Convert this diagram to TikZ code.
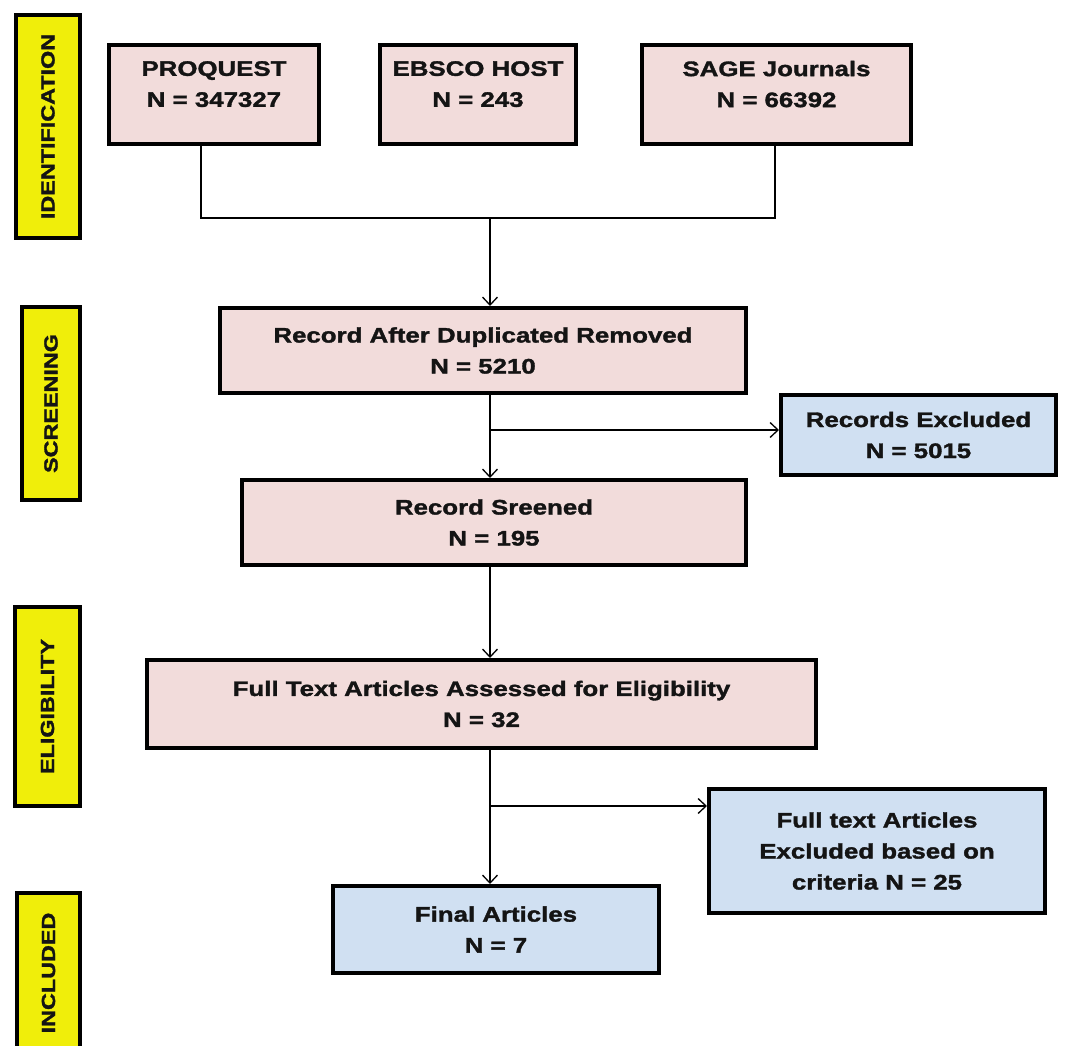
\documentclass[tikz,border=0pt]{standalone}
\usepackage{fontspec}
\newfontfamily\boxfont{Liberation Sans}[FakeStretch=1.23,BoldFeatures={FakeBold=1.6}]
\usetikzlibrary{arrows.meta}
\definecolor{pinkfill}{RGB}{242,220,219}
\definecolor{bluefill}{RGB}{208,224,242}
\definecolor{yellowfill}{RGB}{240,238,10}
\definecolor{inkc}{RGB}{20,20,20}
\tikzset{
  basebox/.style={draw=black, line width=4pt, align=center, text=inkc, inner sep=0pt,
    font=\boxfont\bfseries\fontsize{21}{31}\selectfont},
  pinkbox/.style={basebox, fill=pinkfill},
  bluebox/.style={basebox, fill=bluefill},
  stagebox/.style={draw=black, line width=4pt, fill=yellowfill, rotate=90, text=inkc, inner sep=0pt,
    font=\boxfont\bfseries\fontsize{19}{23}\selectfont},
  conn/.style={draw=black, line width=1.5pt},
  arr/.style={conn, -{Straight Barb[length=8pt,width=15pt,line width=1.3pt]}}
}
\begin{document}
\begin{tikzpicture}[x=1pt,y=-1pt]
\useasboundingbox (0,0) rectangle (1077,1046);
\fill[white] (0,0) rectangle (1077,1046);

% stage bars
\node[stagebox, minimum width=223pt, minimum height=64pt] (sid) at (48,126.5) {IDENTIFICATION};
\node[stagebox, minimum width=193pt, minimum height=58pt] (ssc) at (51,403.5) {SCREENING};
\node[stagebox, minimum width=199pt, minimum height=65pt] (sel) at (47.5,706.5) {ELIGIBILITY};
\node[stagebox, minimum width=160pt, minimum height=63pt] (sin) at (48.5,973) {INCLUDED};

% source boxes
\node[pinkbox, minimum width=210pt, minimum height=99pt] (pq) at (214,94.5) {PROQUEST\\N = 347327\\[-10pt]\mbox{}};
\node[pinkbox, minimum width=196pt, minimum height=99pt] (eb) at (478,94.5) {EBSCO HOST\\N = 243\\[-10pt]\mbox{}};
\node[pinkbox, minimum width=269pt, minimum height=99pt] (sg) at (776.5,94.5) {SAGE Journals\\N = 66392\\[-10pt]\mbox{}};

% flow boxes
\node[pinkbox, minimum width=526pt, minimum height=85pt] (rd) at (483,350.5) {Record After Duplicated Removed\\N = 5210};
\node[bluebox, minimum width=275pt, minimum height=80pt] (re) at (918.5,435) {Records Excluded\\N = 5015};
\node[pinkbox, minimum width=504pt, minimum height=85pt] (rs) at (494,522.5) {Record Sreened\\N = 195};
\node[pinkbox, minimum width=669pt, minimum height=88pt] (ft) at (481.5,704) {Full Text Articles Assessed for Eligibility\\N = 32};
\node[bluebox, minimum width=336pt, minimum height=124pt] (fx) at (877,851) {Full text Articles\\Excluded based on\\criteria N = 25};
\node[bluebox, minimum width=326pt, minimum height=87pt] (fa) at (496,929.5) {Final Articles\\N = 7};

% connectors
\coordinate (j) at (490,218);
\coordinate (pqx) at (201,218);
\coordinate (sgx) at (775,218);
\coordinate (b1) at (490,430);
\coordinate (b2) at (490,806);
\draw[conn] (pqx |- pq.south) -- (pqx) -- (sgx) -- (sgx |- sg.south);
\draw[arr] (j) -- (j |- rd.north);
\draw[arr] (j |- rd.south) -- (j |- rs.north);
\draw[arr] (b1) -- (b1 -| re.west);
\draw[arr] (j |- rs.south) -- (j |- ft.north);
\draw[arr] (j |- ft.south) -- (j |- fa.north);
\draw[arr] (b2) -- (b2 -| fx.west);
\end{tikzpicture}
\end{document}
